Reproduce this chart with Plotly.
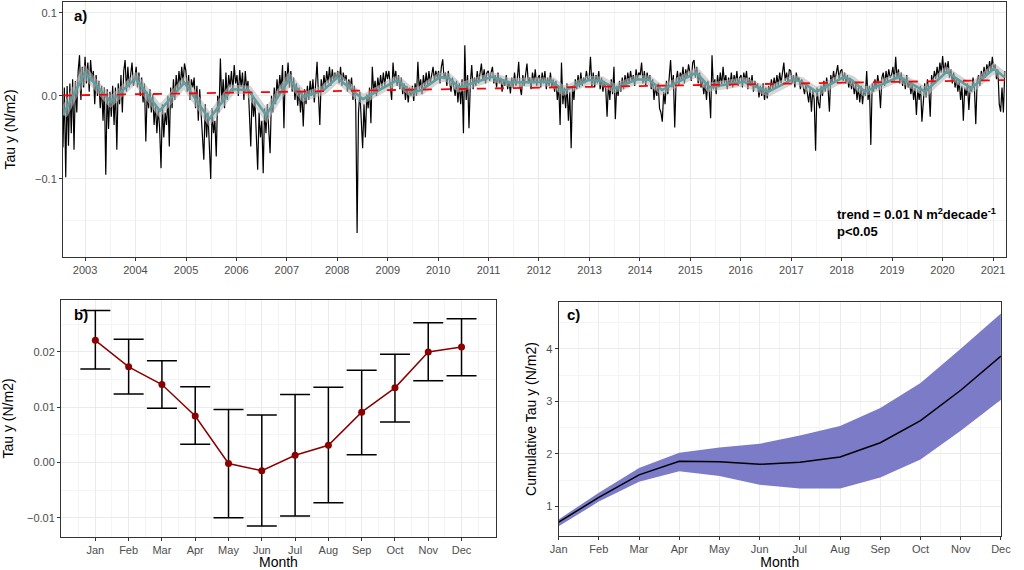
import pandas as pd
import plotly.graph_objects as go

# ------------------------------------------------------------------
# Panel a: Tau y every 10 days from 2002-07-25
# ------------------------------------------------------------------
tau_y = [
    # 2002 (Jul-Dec)
    -0.062, 0.010, -0.098, 0.012, -0.060, 0.015, -0.045, 0.020, -0.065, 0.018, -0.020, 0.030, 0.049, -0.005, 0.035, 0.010,
    # 2003
    0.047, 0.015, 0.040, 0.005, 0.043, 0.020, 0.030, -0.010, 0.025, 0.000, 0.018, -0.015,
    0.012, -0.030, 0.010, -0.095, 0.008, -0.040, 0.005, -0.025, 0.012, -0.035, 0.010, -0.065,
    0.015, -0.010, 0.025, -0.020, 0.030, 0.043, 0.005, 0.035, 0.010, 0.030, 0.040, 0.012, 0.020,
    # 2004
    0.035, 0.010, 0.028, 0.000, 0.022, -0.008, 0.015, -0.055, 0.005, -0.015, 0.008, -0.020,
    0.002, -0.035, -0.010, -0.045, -0.015, -0.040, -0.087, -0.010, -0.050, -0.020, -0.035, 0.000,
    -0.061, 0.010, -0.015, 0.020, -0.005, 0.025, 0.005, 0.030, 0.012, 0.035, 0.015, 0.039,
    # 2005
    0.030, 0.005, 0.025, -0.005, 0.020, 0.010, 0.022, -0.015, 0.012, -0.030, 0.008, -0.020,
    -0.045, -0.077, -0.010, -0.050, -0.020, -0.060, -0.100, -0.015, -0.045, -0.030, -0.073, 0.000,
    -0.020, 0.045, -0.010, 0.020, -0.015, 0.028, -0.005, 0.025, 0.010, 0.030, 0.005, 0.037, 0.015,
    # 2006
    0.025, 0.000, 0.031, 0.010, 0.028, -0.005, 0.030, 0.008, 0.018, -0.015, -0.061, 0.005,
    -0.025, -0.005, -0.040, -0.089, -0.020, -0.050, -0.030, -0.093, -0.015, -0.045, -0.010, -0.035,
    -0.069, 0.000, -0.020, 0.010, -0.010, 0.020, 0.000, 0.025, 0.008, 0.037, -0.039, 0.030,
    # 2007
    0.015, 0.040, 0.010, 0.030, 0.005, 0.022, -0.005, 0.015, -0.012, 0.010, -0.020, 0.005,
    -0.037, 0.008, -0.010, 0.012, -0.005, 0.018, 0.000, 0.020, -0.008, 0.015, 0.041, 0.002,
    -0.035, 0.020, 0.005, 0.025, 0.010, 0.030, 0.015, 0.035, 0.012, 0.032, 0.018, 0.028, 0.020,
    # 2008
    0.030, 0.015, 0.035, 0.012, 0.028, 0.018, 0.025, 0.005, 0.020, 0.010, 0.022, -0.005,
    0.012, -0.010, -0.165, -0.020, 0.005, -0.030, -0.063, -0.010, -0.050, 0.002, -0.015, 0.010,
    -0.033, 0.035, 0.005, 0.018, 0.000, 0.022, 0.008, 0.025, 0.010, 0.028, 0.012, 0.030,
    # 2009
    0.020, 0.030, 0.010, -0.005, 0.040, 0.018, 0.030, 0.012, 0.025, 0.008, 0.022, 0.002,
    0.015, -0.005, 0.012, -0.008, 0.010, 0.000, 0.012, -0.006, 0.015, 0.000, 0.041, 0.008,
    0.020, 0.002, 0.025, 0.010, 0.028, 0.012, 0.030, 0.015, 0.025, 0.035, 0.018, 0.030, 0.022,
    # 2010
    0.030, 0.015, 0.035, 0.044, 0.020, 0.028, 0.012, 0.030, 0.018, 0.005, 0.022, 0.010,
    0.000, 0.018, -0.008, 0.015, -0.010, 0.020, -0.045, 0.061, -0.005, 0.025, -0.039, 0.015,
    0.037, 0.008, 0.022, 0.012, 0.030, 0.015, 0.025, 0.039, 0.018, 0.032, 0.015, 0.028,
    # 2011
    0.030, 0.018, 0.028, 0.035, 0.015, 0.025, 0.010, 0.028, 0.015, 0.022, 0.005, 0.020,
    0.012, 0.025, 0.008, 0.018, 0.003, 0.022, 0.010, 0.028, 0.012, 0.020, 0.041, 0.010,
    0.001, 0.025, 0.012, 0.030, 0.039, 0.015, 0.022, 0.008, 0.028, 0.015, 0.032, 0.012, 0.022,
    # 2012
    0.025, 0.010, 0.028, 0.015, 0.030, 0.008, 0.022, 0.012, 0.028, 0.010, 0.020, 0.005,
    0.018, -0.005, 0.012, -0.035, 0.040, -0.010, 0.010, -0.015, 0.015, -0.030, 0.005, -0.063,
    0.012, -0.005, 0.020, 0.008, 0.025, 0.010, 0.028, 0.012, 0.022, 0.015, 0.030, 0.020,
    # 2013
    0.020, 0.047, 0.012, 0.028, 0.010, 0.025, 0.015, 0.030, 0.008, 0.022, 0.005, 0.018,
    0.010, -0.025, 0.015, -0.005, 0.020, 0.002, 0.035, -0.028, 0.012, 0.000, 0.018, 0.005,
    0.022, 0.008, 0.025, 0.012, 0.028, 0.015, 0.030, 0.018, 0.025, 0.012, 0.032, 0.020, 0.028,
    # 2014
    0.025, 0.040, 0.015, 0.030, 0.012, 0.028, 0.018, 0.025, 0.008, 0.020, -0.005, 0.012,
    0.000, 0.015, -0.015, -0.020, -0.031, 0.005, -0.010, 0.018, 0.002, 0.022, 0.043, 0.010,
    0.025, -0.038, 0.018, 0.030, 0.012, 0.028, 0.020, 0.035, 0.015, 0.032, 0.022, 0.038,
    # 2015
    0.030, 0.018, 0.040, 0.043, 0.022, 0.035, 0.015, 0.028, 0.010, 0.020, 0.002, 0.015,
    -0.005, 0.018, 0.005, -0.027, 0.049, 0.008, 0.020, 0.002, 0.025, 0.010, 0.028, 0.012,
    0.035, 0.015, 0.025, 0.008, 0.022, 0.012, 0.028, 0.010, 0.025, 0.015, 0.030, 0.012, 0.022,
    # 2016
    0.025, 0.010, 0.028, 0.018, 0.030, 0.008, 0.022, 0.012, 0.025, 0.005, 0.018, 0.010,
    0.015, -0.002, 0.012, 0.000, 0.015, -0.005, 0.010, -0.003, 0.012, 0.005, 0.020, 0.008,
    0.022, 0.010, 0.025, 0.012, 0.028, 0.015, 0.030, 0.040, 0.018, 0.028, 0.015, 0.032,
    # 2017
    0.030, 0.015, 0.025, 0.010, 0.028, 0.018, 0.022, 0.008, 0.020, 0.012, 0.002, 0.015,
    0.005, -0.008, 0.010, -0.019, 0.008, -0.005, -0.066, 0.010, -0.008, -0.015, 0.012, 0.000,
    0.018, 0.005, 0.022, 0.010, -0.019, 0.025, 0.015, 0.030, 0.018, 0.028, 0.037, 0.020, 0.030,
    # 2018
    0.032, 0.018, 0.028, 0.015, 0.025, 0.010, 0.022, 0.008, 0.018, 0.002, 0.015, -0.005,
    0.010, -0.008, 0.012, -0.010, 0.008, 0.000, 0.030, -0.005, 0.012, -0.059, 0.015, 0.005,
    0.020, 0.008, 0.025, 0.012, -0.015, 0.022, 0.028, 0.012, 0.030, 0.018, 0.032, 0.022,
    # 2019
    0.025, 0.035, 0.018, 0.047, 0.020, 0.032, 0.015, 0.028, 0.012, 0.022, 0.008, 0.025,
    0.010, 0.018, 0.002, 0.015, -0.005, 0.010, -0.023, 0.008, -0.005, 0.012, -0.031, 0.000,
    0.015, -0.002, 0.020, 0.008, -0.025, 0.025, 0.015, 0.030, 0.020, 0.035, 0.022, 0.040, 0.028,
    # 2020
    0.048, 0.025, 0.040, 0.030, 0.042, 0.022, 0.032, 0.015, 0.028, 0.010, 0.022, 0.005,
    0.018, -0.005, 0.012, -0.030, 0.010, 0.000, 0.015, -0.017, 0.012, 0.005, 0.022, 0.010,
    -0.034, 0.018, 0.025, 0.012, 0.030, 0.020, 0.035, 0.022, 0.038, 0.028, 0.042, 0.030,
    # 2021 (Jan-Mar)
    0.047, 0.030, 0.038, 0.020, 0.032, -0.010, -0.019, 0.010, -0.020, 0.030,
]

# smoothed signal (knots of the teal line)
smooth_dates = [
    "2002-07-25", "2003-01-01", "2003-07-05", "2004-01-01", "2004-06-25", "2004-12-20",
    "2005-06-18", "2005-11-28", "2006-03-28", "2006-08-04", "2007-01-19", "2007-05-05",
    "2007-09-24", "2008-01-01", "2008-07-05", "2009-03-10", "2009-06-25", "2009-09-02",
    "2010-01-12", "2010-03-15", "2010-06-03", "2011-01-26", "2011-06-03", "2012-04-08",
    "2012-06-28", "2012-12-24", "2013-03-29", "2013-07-02", "2013-12-14", "2014-03-08",
    "2014-06-10", "2015-02-14", "2015-05-19", "2016-01-23", "2016-07-19", "2017-01-12",
    "2017-03-15", "2017-07-02", "2018-01-15", "2018-03-15", "2018-06-18", "2019-02-21",
    "2019-08-29", "2020-01-30", "2020-07-27", "2021-01-08", "2021-03-28",
]
smooth_vals = [
    -0.023, 0.028, -0.007, 0.021, -0.018, 0.016,
    -0.028, 0.008, 0.007, -0.023, 0.020, -0.001,
    0.007, 0.022, -0.004, 0.019, 0.004, 0.007,
    0.0225, 0.022, 0.010, 0.023, 0.016, 0.017,
    0.006, 0.019, 0.018, 0.009, 0.020, 0.019,
    0.007, 0.028, 0.0105, 0.017, 0.005, 0.020,
    0.017, 0.005, 0.0225, 0.019, 0.005, 0.023,
    0.005, 0.029, 0.009, 0.033, 0.022,
]

trend_dates = ["2002-07-25", "2021-03-28"]
trend_vals = [0.0005, 0.019]

# ------------------------------------------------------------------
# Panel b: monthly climatology (mean and error bar ends)
# ------------------------------------------------------------------
months = ["Jan", "Feb", "Mar", "Apr", "May", "Jun",
          "Jul", "Aug", "Sep", "Oct", "Nov", "Dec"]
month_num = list(range(1, 13))
clim_mean = [0.0221, 0.0173, 0.0141, 0.0084, -0.0002, -0.0015,
             0.0013, 0.0031, 0.0091, 0.0135, 0.0200, 0.0209]
clim_upper = [0.0275, 0.0223, 0.0184, 0.0137, 0.0096, 0.0086,
              0.0123, 0.0136, 0.0167, 0.0196, 0.0253, 0.0260]
clim_lower = [0.0169, 0.0124, 0.0098, 0.0033, -0.0100, -0.0115,
              -0.0097, -0.0073, 0.0014, 0.0073, 0.0148, 0.0157]

# ------------------------------------------------------------------
# Panel c: cumulative Tau y with envelope
# ------------------------------------------------------------------
cum_mean = [0.70, 1.17, 1.60, 1.86, 1.85, 1.80, 1.84, 1.94, 2.21, 2.63, 3.21, 3.86]
cum_upper = [0.75, 1.26, 1.73, 2.02, 2.12, 2.19, 2.35, 2.53, 2.87, 3.35, 4.00, 4.67]
cum_lower = [0.62, 1.09, 1.47, 1.67, 1.58, 1.41, 1.34, 1.34, 1.55, 1.89, 2.44, 3.03]

FONT = "Liberation Sans, Arial, sans-serif"
LABEL_FONT = dict(family="Liberation Sans Narrow, Arial Narrow, sans-serif",
                  size=15, color="black")
TICK_FONT = dict(family=FONT, size=11, color="#4d4d4d")
TITLE_FONT = dict(family=FONT, size=14, color="black")

dates = pd.date_range("2002-07-25", periods=len(tau_y), freq="10D")

fig = go.Figure()

# panel a
fig.add_trace(go.Scatter(x=dates, y=tau_y, mode="lines",
                         line=dict(color="black", width=1.2),
                         xaxis="x", yaxis="y", showlegend=False))
fig.add_trace(go.Scatter(x=smooth_dates, y=smooth_vals, mode="lines",
                         line=dict(color="rgba(185,185,185,0.6)", width=9),
                         xaxis="x", yaxis="y", showlegend=False))
fig.add_trace(go.Scatter(x=smooth_dates, y=smooth_vals, mode="lines",
                         line=dict(color="#5f9ea0", width=2.5),
                         xaxis="x", yaxis="y", showlegend=False))
fig.add_trace(go.Scatter(x=trend_dates, y=trend_vals, mode="lines",
                         line=dict(color="red", width=1.8, dash="dash"),
                         xaxis="x", yaxis="y", showlegend=False))

# panel b
fig.add_trace(go.Scatter(
    x=month_num, y=clim_mean, mode="lines+markers",
    line=dict(color="#8b0000", width=1.5),
    marker=dict(color="#8b0000", size=7),
    error_y=dict(type="data", symmetric=False,
                 array=[u - m for u, m in zip(clim_upper, clim_mean)],
                 arrayminus=[m - l for m, l in zip(clim_mean, clim_lower)],
                 color="black", thickness=1.5, width=15),
    xaxis="x2", yaxis="y2", showlegend=False))

# panel c
fig.add_trace(go.Scatter(x=month_num, y=cum_upper, mode="lines",
                         line=dict(width=0, color="#7b7bc7"),
                         xaxis="x3", yaxis="y3", showlegend=False))
fig.add_trace(go.Scatter(x=month_num, y=cum_lower, mode="lines",
                         line=dict(width=0, color="#7b7bc7"),
                         fill="tonexty", fillcolor="#7b7bc7",
                         xaxis="x3", yaxis="y3", showlegend=False))
fig.add_trace(go.Scatter(x=month_num, y=cum_mean, mode="lines",
                         line=dict(color="black", width=1.5),
                         xaxis="x3", yaxis="y3", showlegend=False))

common = dict(showline=True, mirror=True, linecolor="#333333", linewidth=1,
              ticks="outside", ticklen=3, tickcolor="#333333",
              gridcolor="#ebebeb", gridwidth=1, zeroline=False,
              tickfont=TICK_FONT)
minor_grid = dict(showgrid=True, gridcolor="#f4f4f4", gridwidth=0.6)

fig.update_layout(
    width=1024, height=570,
    margin=dict(l=0, r=0, t=0, b=0),
    paper_bgcolor="white", plot_bgcolor="white",
    font=dict(family=FONT),
    xaxis=dict(domain=[0.0537, 0.9922], anchor="y", type="date",
               range=["2002-07-25", "2021-04-06"],
               dtick="M12", tick0="2003-01-01", tickformat="%Y",
               minor=dict(dtick="M6", tick0="2003-01-01", **minor_grid),
               **common),
    yaxis=dict(domain=[0.5491, 0.9965], anchor="x",
               range=[-0.194, 0.113], dtick=0.1, tickformat=".1f",
               minor=dict(dtick=0.05, **minor_grid),
               title=dict(text="Tau y (N/m2)", font=TITLE_FONT, standoff=16),
               **common),
    xaxis2=dict(domain=[0.0518, 0.4844], anchor="y2",
                range=[-0.03, 13.03], tickmode="array",
                tickvals=month_num, ticktext=months,
                minor=dict(tick0=0.5, dtick=1, **minor_grid),
                title=dict(text="Month", font=TITLE_FONT, standoff=4),
                **common),
    yaxis2=dict(domain=[0.0579, 0.4737], anchor="x2",
                range=[-0.0135, 0.0294], dtick=0.01, tickformat=".2f",
                minor=dict(dtick=0.005, **minor_grid),
                title=dict(text="Tau y (N/m2)", font=TITLE_FONT, standoff=10),
                **common),
    xaxis3=dict(domain=[0.5469, 0.987], anchor="y3",
                range=[1, 12], tickmode="array",
                tickvals=month_num, ticktext=months,
                minor=dict(tick0=0.5, dtick=1, **minor_grid),
                title=dict(text="Month", font=TITLE_FONT, standoff=4),
                **common),
    yaxis3=dict(domain=[0.0596, 0.4702], anchor="x3",
                range=[0.435, 4.89], dtick=1,
                minor=dict(dtick=0.5, **minor_grid),
                title=dict(text="Cumulative Tau y (N/m2)", font=TITLE_FONT, standoff=6),
                **common),
)

fig.add_annotation(text="<b>a)</b>", x=0.0625, y=0.972, xref="paper", yref="paper",
                   xanchor="left", yanchor="middle", showarrow=False, font=LABEL_FONT)
fig.add_annotation(text="<b>b)</b>", x=0.0625, y=0.4474, xref="paper", yref="paper",
                   xanchor="left", yanchor="middle", showarrow=False, font=LABEL_FONT)
fig.add_annotation(text="<b>c)</b>", x=0.553, y=0.4474, xref="paper", yref="paper",
                   xanchor="left", yanchor="middle", showarrow=False, font=LABEL_FONT)
fig.add_annotation(
    text="<b>trend = 0.01 N m<sup>2</sup>decade<sup>-1</sup></b><br><b>p<0.05</b>",
    x=0.822, y=0.642, xref="paper", yref="paper", xanchor="left", yanchor="top",
    align="left", showarrow=False, font=dict(family=FONT, size=13, color="black"))

# drop the page's default body margin and any scrolling so the 1024x570
# figure fills the window exactly
fig.write_html(
    "out.html", config={"displayModeBar": False},
    post_script=("document.body.style.margin = '0px';"
                 "document.body.style.overflow = 'hidden';"
                 "document.documentElement.style.overflow = 'hidden';"))
